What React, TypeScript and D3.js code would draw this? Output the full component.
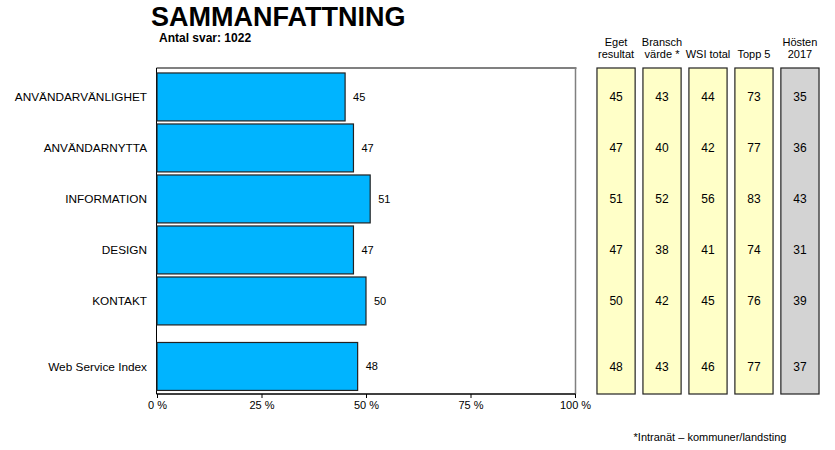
import { useEffect, useRef } from "react";
import * as d3 from "d3";

const categories = [
  "ANVÄNDARVÄNLIGHET",
  "ANVÄNDARNYTTA",
  "INFORMATION",
  "DESIGN",
  "KONTAKT",
  "Web Service Index",
];

const egetResultat = [45, 47, 51, 47, 50, 48];
const branschVarde = [43, 40, 52, 38, 42, 43];
const wsiTotal = [44, 42, 56, 41, 45, 46];
const topp5 = [73, 77, 83, 74, 76, 77];
const hosten2017 = [35, 36, 43, 31, 39, 37];

const columnHeaders = [
  ["Eget", "resultat"],
  ["Bransch", "värde *"],
  ["WSI total"],
  ["Topp 5"],
  ["Hösten", "2017"],
];

const xTicks = [0, 25, 50, 75, 100];

const App = () => {
  const chartRef = useRef<HTMLDivElement>(null);

  useEffect(() => {
    const width = 835;
    const height = 450;
    const font = "Liberation Sans, Arial, sans-serif";
    const plot = { left: 156.5, right: 575.5, top: 68, bottom: 394 };

    const svg = d3
      .select(chartRef.current)
      .html("")
      .append("svg")
      .attr("width", width)
      .attr("height", height)
      .style("position", "absolute")
      .style("left", "0px")
      .style("top", "0px")
      .style("font-family", font);

    const x = d3.scaleLinear().domain([0, 100]).range([157, 575]);

    // rows, with an extra gap before the index row
    const y = d3
      .scaleBand()
      .domain(categories)
      .range([69.4, 379.5])
      .paddingInner(0.06)
      .paddingOuter(0.07);
    const indexGap = 14.5;
    const rowTop = (c: string, i: number) => y(c)! + (i === categories.length - 1 ? indexGap : 0);
    const rowMid = (c: string, i: number) => rowTop(c, i) + y.bandwidth() / 2;

    // title
    svg
      .append("text")
      .attr("x", 151)
      .attr("y", 26)
      .attr("font-size", 27)
      .attr("font-weight", "bold")
      .text("SAMMANFATTNING");

    svg
      .append("text")
      .attr("x", 159)
      .attr("y", 42)
      .attr("font-size", 12)
      .attr("font-weight", "bold")
      .text("Antal svar: 1022");

    // plot frame
    svg
      .append("rect")
      .attr("x", plot.left)
      .attr("y", plot.top)
      .attr("width", plot.right - plot.left)
      .attr("height", plot.bottom - plot.top)
      .attr("fill", "white")
      .attr("stroke", "none");
    svg
      .append("line")
      .attr("x1", plot.left)
      .attr("x2", plot.right + 1)
      .attr("y1", plot.top)
      .attr("y2", plot.top)
      .attr("stroke", "#808080")
      .attr("stroke-width", 2);
    svg
      .append("line")
      .attr("x1", plot.right)
      .attr("x2", plot.right)
      .attr("y1", plot.top)
      .attr("y2", plot.bottom)
      .attr("stroke", "#808080")
      .attr("stroke-width", 1.5);
    svg
      .append("line")
      .attr("x1", plot.left)
      .attr("x2", plot.left)
      .attr("y1", plot.top)
      .attr("y2", plot.bottom)
      .attr("stroke", "black");

    // bars
    svg
      .append("g")
      .selectAll("rect")
      .data(egetResultat)
      .enter()
      .append("rect")
      .attr("x", x(0))
      .attr("y", (_, i) => rowTop(categories[i], i))
      .attr("width", (d) => x(d) - x(0))
      .attr("height", y.bandwidth())
      .attr("fill", "#00B4FF")
      .attr("stroke", "#222")
      .attr("stroke-width", 1.2);

    svg
      .append("g")
      .selectAll("text")
      .data(egetResultat)
      .enter()
      .append("text")
      .attr("x", (d) => x(d) + 8)
      .attr("y", (_, i) => rowMid(categories[i], i))
      .attr("dy", "0.35em")
      .attr("font-size", 11)
      .text((d) => d);

    // category labels
    svg
      .append("g")
      .selectAll("text")
      .data(categories)
      .enter()
      .append("text")
      .attr("x", 147)
      .attr("y", (c, i) => rowMid(c, i))
      .attr("dy", "0.35em")
      .attr("text-anchor", "end")
      .attr("font-size", 11.8)
      .text((c) => c);

    // x axis
    const axis = svg
      .append("g")
      .attr("transform", `translate(0,${plot.bottom})`)
      .call(
        d3
          .axisBottom(x)
          .tickValues(xTicks)
          .tickSize(4)
          .tickPadding(3)
          .tickFormat((d) => `${d} %`)
      );
    axis.select(".domain").attr("stroke", "black").attr("stroke-width", 1.5).attr("d", `M${plot.left},0H${plot.right}`);
    axis.selectAll(".tick line").attr("stroke", "black");
    axis.selectAll("text").attr("font-size", 11).attr("font-family", font).attr("fill", "black");

    // right panel columns
    const columns = [egetResultat, branschVarde, wsiTotal, topp5, hosten2017];
    const cx = d3
      .scaleBand<number>()
      .domain(d3.range(columns.length))
      .range([591, 825])
      .paddingInner(0.17)
      .paddingOuter(0.13);

    columns.forEach((vals, ci) => {
      const g = svg.append("g");
      const isLast = ci === columns.length - 1;
      g.append("rect")
        .attr("x", cx(ci)!)
        .attr("y", plot.top)
        .attr("width", cx.bandwidth())
        .attr("height", plot.bottom - plot.top)
        .attr("fill", isLast ? "#D3D3D3" : "#FFFFC8")
        .attr("stroke", "#222")
        .attr("stroke-width", 1.2);

      const head = columnHeaders[ci];
      head.forEach((line, li) => {
        g.append("text")
          .attr("x", cx(ci)! + cx.bandwidth() / 2)
          .attr("y", 58 + (li - head.length + 1) * 12)
          .attr("text-anchor", "middle")
          .attr("font-size", 11)
          .text(line);
      });

      g.selectAll("text.val")
        .data(vals)
        .enter()
        .append("text")
        .attr("class", "val")
        .attr("x", cx(ci)! + cx.bandwidth() / 2)
        .attr("y", (_, i) => rowMid(categories[i], i))
        .attr("dy", "0.35em")
        .attr("text-anchor", "middle")
        .attr("font-size", 12)
        .text((d) => d);
    });

    // footnote
    svg
      .append("text")
      .attr("x", 710)
      .attr("y", 441)
      .attr("text-anchor", "middle")
      .attr("font-size", 11)
      .text("*Intranät – kommuner/landsting");
  }, []);

  return <div ref={chartRef} />;
};

export default App;
